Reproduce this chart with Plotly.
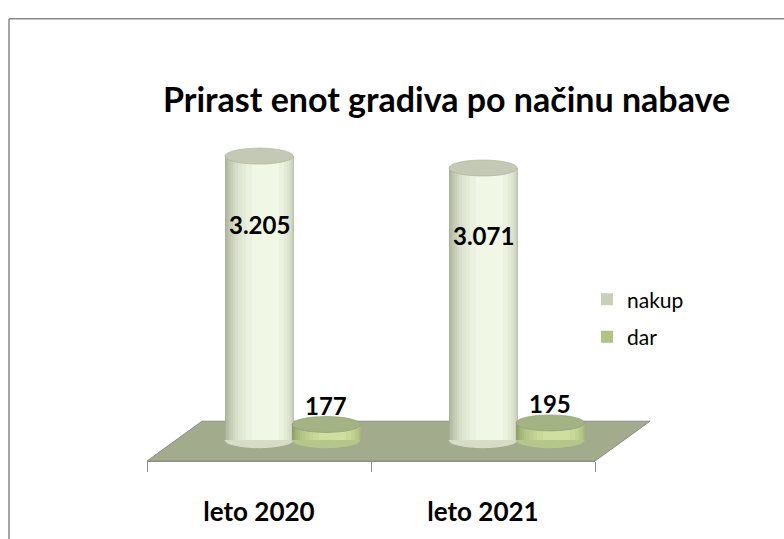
import plotly.graph_objects as go
import numpy as np

# ---- data ----
categories = ["leto 2020", "leto 2021"]
series_names = ["nakup", "dar"]
nakup = [3205, 3071]
dar = [177, 195]
title_text = "Prirast enot gradiva po načinu nabave"

# ---- layout constants (pixels) ----
W, H = 784, 539
PL, PR = 147, 595
PT, PB = 140, 479
ZERO_PX = 457
K = 0.0936  # px per unit

def px2paper_x(p):
    return (p - PL) / (PR - PL)

def px2paper_y(p):
    return (PB - p) / (PB - PT)

series = [
    dict(name="nakup", values=nakup, offset=0.0,
         edge=(168, 175, 150), center=(247, 254, 236), top="#c4c9b5", topline="#a9ae99",
         bottom="#d6dcc6", legend_idx=5),
    dict(name="dar", values=dar, offset=0.3,
         edge=(140, 158, 102), center=(212, 229, 165), top="#a3b383", topline="#8a9a6b",
         bottom="#b4c68a", legend_idx=6),
]
BW = 0.305
N = 12
HL = 0.6  # highlight position across width

def rgb(c):
    return "rgb(%d,%d,%d)" % tuple(int(round(v)) for v in c)

fig = go.Figure()
shapes = []

# floor parallelogram (decoration)
floor_pts = [(PL, PB), (PR, PB), (650, 437), (202, 437)]
path = "M " + " L ".join("%f,%f" % (px2paper_x(x), px2paper_y(y)) for x, y in floor_pts) + " Z"
shapes.append(dict(type="path", xref="paper", yref="paper", path=path,
                   fillcolor="#a2ab8c", line=dict(color="#8c8c8c", width=1), layer="below"))
# outer border of chart area: left and top edges
shapes.append(dict(type="line", xref="paper", yref="paper",
                   x0=px2paper_x(9), x1=px2paper_x(9), y0=px2paper_y(H + 60), y1=px2paper_y(12),
                   line=dict(color="#878787", width=1.5), layer="above"))
shapes.append(dict(type="line", xref="paper", yref="paper",
                   x0=px2paper_x(9), x1=px2paper_x(W + 60), y0=px2paper_y(12), y1=px2paper_y(12),
                   line=dict(color="#878787", width=1.5), layer="above"))

for s in series:
    xs = np.arange(len(categories)) + s["offset"]
    # bottom ellipses
    for xc in xs:
        shapes.append(dict(type="circle", xref="x", yref="y", ysizemode="pixel", yanchor=0,
                           x0=xc - BW / 2, x1=xc + BW / 2, y0=-8, y1=8,
                           fillcolor=s["bottom"], line=dict(width=0), layer="below"))
    for k in range(N):
        t = k / N
        f = np.sqrt(1 - t * t)
        col = [e + (c - e) * t for e, c in zip(s["edge"], s["center"])]
        shift = (HL - 0.5) * BW * t
        fig.add_trace(go.Bar(
            x=list(xs + shift), y=s["values"], width=BW * f,
            marker=dict(color=rgb(col), line=dict(width=0)),
            name=s["name"], legendgroup=s["name"],
            showlegend=(k == s["legend_idx"]), hoverinfo="skip",
        ))
    for xc, v in zip(xs, s["values"]):
        shapes.append(dict(type="circle", xref="x", yref="y", ysizemode="pixel", yanchor=v,
                           x0=xc - BW / 2, x1=xc + BW / 2, y0=-8, y1=8,
                           fillcolor=s["top"], line=dict(width=0.6, color=s["topline"]), layer="above"))

annotations = []
for xc, v in zip(np.arange(len(categories)) + series[0]["offset"], nakup):
    annotations.append(dict(x=xc, y=v, yshift=-68, text=f"{v:,}".replace(",", "."),
                            showarrow=False, font=dict(family="Lato", size=24, color="black", weight="bold")))
for xc, v in zip(np.arange(len(categories)) + series[1]["offset"], dar):
    annotations.append(dict(x=xc, y=v, yshift=19, text=f"{v:,}".replace(",", "."),
                            showarrow=False, font=dict(family="Lato", size=24, color="black", weight="bold")))
annotations.append(dict(xref="paper", yref="paper", x=px2paper_x(446), y=px2paper_y(96),
                        xanchor="center", yanchor="middle", text=title_text, showarrow=False,
                        font=dict(family="Lato", size=34, color="black", weight="bold")))

ymin = -(PB - ZERO_PX) / K
ymax = (ZERO_PX - PT) / K

fig.update_layout(
    width=W, height=H,
    margin=dict(l=PL, r=W - PR, t=PT, b=H - PB, pad=0),
    paper_bgcolor="white", plot_bgcolor="rgba(0,0,0,0)",
    barmode="overlay", bargap=0,
    showlegend=True,
    legend=dict(x=px2paper_x(587), y=px2paper_y(287), xanchor="left", yanchor="top",
                font=dict(family="Lato", size=21, color="black"),
                traceorder="grouped", tracegroupgap=7, bgcolor="rgba(0,0,0,0)"),
    xaxis=dict(range=[-0.5, len(categories) - 0.5], tickvals=list(range(len(categories))),
               ticktext=categories, ticks="", showgrid=False, zeroline=False,
               showline=True, linecolor="#8c8c8c", linewidth=1,
               tickfont=dict(family="Lato", size=26, color="black", weight="bold"),
               ticklabelstandoff=28,
               minor=dict(tickvals=[i - 0.5 for i in range(len(categories) + 1)], ticks="outside",
                          ticklen=10, tickcolor="#8c8c8c", tickwidth=1, showgrid=False)),
    yaxis=dict(range=[ymin, ymax], visible=False, showgrid=False, zeroline=False),
    shapes=shapes, annotations=annotations,
)

fig.write_html("out.html", config={"displayModeBar": False},
               post_script="document.body.style.margin='0';document.body.style.overflow='hidden';")
